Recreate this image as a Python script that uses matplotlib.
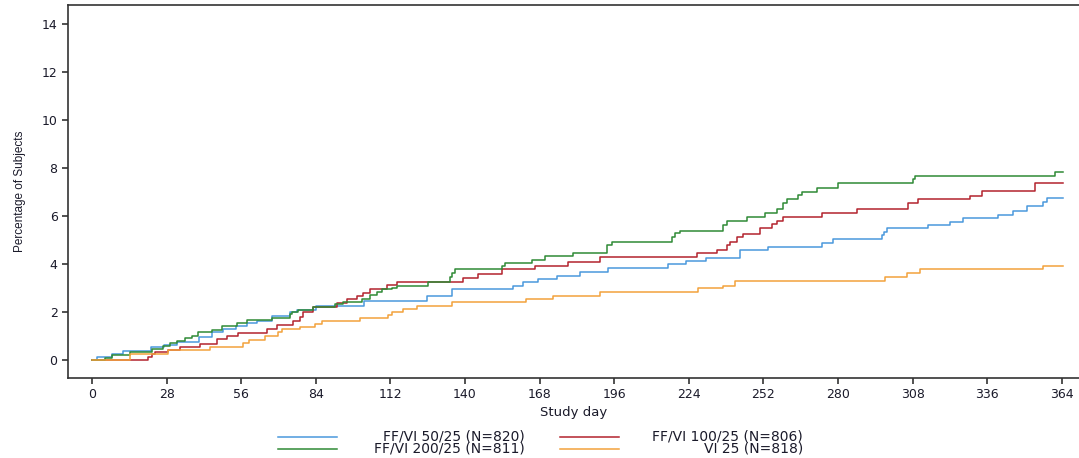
import matplotlib
matplotlib.use("Agg")
import matplotlib.pyplot as plt
from matplotlib.lines import Line2D

# cumulative percentage of subjects with an event, step points (day, %)
days_50 = [0, 2, 7.5, 11.6, 22, 27, 32, 40, 45, 49, 54, 58, 62, 67.5, 74.3, 77, 84,
           102, 125.7, 135, 158, 161.7, 167.4, 174.5, 183, 193.6, 216, 222.9, 230.4,
           243, 253.7, 273.9, 278, 296.4, 297.3, 298.3, 313.7, 322, 326.8, 340,
           345.6, 350.8, 356.8, 358.3, 364.5]
pct_50 = [0, 0.12, 0.24, 0.37, 0.53, 0.62, 0.76, 0.97, 1.15, 1.3, 1.42, 1.53, 1.64, 1.83,
          2.0, 2.1, 2.25, 2.45, 2.68, 2.95, 3.08, 3.26, 3.37, 3.51, 3.68, 3.84, 3.98,
          4.12, 4.27, 4.58, 4.72, 4.86, 5.03, 5.2, 5.35, 5.49, 5.63, 5.76, 5.9, 6.04,
          6.22, 6.42, 6.6, 6.74, 6.74]

days_100 = [0, 21, 22.5, 23.6, 28.5, 33, 40.5, 46.9, 50.7, 54.8, 65.7, 69.4, 75.4, 78,
            79.2, 83, 92, 95.7, 99.4, 101.7, 104.3, 110.7, 114.4, 139.2, 144.8, 153.8,
            166.2, 178.6, 190.6, 227, 234.5, 238.3, 239.4, 242, 244.3, 250.7, 255.2,
            257, 259.3, 274, 287, 306.2, 310, 329.5, 334, 353.8, 364.5]
pct_100 = [0, 0.12, 0.24, 0.35, 0.42, 0.55, 0.67, 0.86, 1.0, 1.14, 1.3, 1.46, 1.64, 1.8,
           2.0, 2.22, 2.38, 2.53, 2.67, 2.8, 2.95, 3.12, 3.27, 3.43, 3.58, 3.78, 3.92,
           4.1, 4.3, 4.44, 4.58, 4.8, 4.93, 5.11, 5.25, 5.49, 5.67, 5.8, 5.97, 6.11,
           6.28, 6.56, 6.7, 6.83, 7.05, 7.36, 7.36]

days_200 = [0, 4.9, 7.5, 14.3, 22.5, 26.6, 29.3, 31.9, 34.9, 37.5, 39.8, 45, 48.8, 54.4,
            58.2, 67.5, 74.3, 75, 77.3, 83, 91.2, 94.2, 101.3, 104.3, 107, 108.8, 112.6,
            114.4, 126, 134.3, 135, 136.2, 153.8, 155, 165, 170, 180.5, 193.2, 195,
            217.6, 218.8, 220.6, 236.8, 238.3, 245.8, 252.5, 257, 259.3, 260.8, 265,
            266.4, 272, 280, 308, 308.8, 361.4, 364.5]
pct_200 = [0, 0.1, 0.2, 0.35, 0.45, 0.58, 0.7, 0.8, 0.9, 1.0, 1.15, 1.26, 1.42, 1.53,
           1.67, 1.74, 1.9, 2.0, 2.1, 2.22, 2.35, 2.43, 2.53, 2.7, 2.85, 2.95, 2.98,
           3.08, 3.26, 3.45, 3.61, 3.78, 3.9, 4.05, 4.17, 4.33, 4.47, 4.79, 4.93, 5.11,
           5.28, 5.37, 5.63, 5.8, 5.97, 6.14, 6.28, 6.53, 6.7, 6.88, 7.01, 7.15, 7.39,
           7.53, 7.67, 7.85, 7.85]

days_vi = [0, 14.3, 28.5, 44.3, 56.7, 59, 64.9, 69.8, 71.3, 78, 83.7, 86.3, 100.6, 111,
           112.6, 116.7, 122, 135, 163, 173, 190.6, 227.4, 236.8, 241.3, 297.6, 305.8,
           310.7, 356.8, 364.5]
pct_vi = [0, 0.25, 0.42, 0.55, 0.72, 0.83, 1.0, 1.15, 1.28, 1.37, 1.5, 1.63, 1.75, 1.87,
          2.01, 2.11, 2.25, 2.4, 2.53, 2.67, 2.85, 2.99, 3.1, 3.28, 3.44, 3.64, 3.78,
          3.93, 3.93]

labels = ['FF/VI 50/25 (N=820)', 'FF/VI 100/25 (N=806)',
          'FF/VI 200/25 (N=811)', 'VI 25 (N=818)']
colors = ['#4a98dc', '#b3232e', '#2f8a36', '#f2a23c']

x_ticks = list(range(0, 365, 28))
y_ticks = list(range(0, 15, 2))

fig = plt.figure(figsize=(10.79, 4.58), dpi=100)
ax = fig.add_axes([0.063, 0.1747, 0.937, 0.8143])

series = [(days_50, pct_50), (days_100, pct_100), (days_200, pct_200), (days_vi, pct_vi)]
for (d, p), c in zip(series, colors):
    ax.step(d, p, where='post', color=c, lw=1.1)

ax.set_xlim(-9.0, 370.4)
ax.set_ylim(-0.75, 14.79)
ax.set_xticks(x_ticks)
ax.set_yticks(y_ticks)
ax.tick_params(direction='out', length=4, width=1.1, color='#222222',
               labelsize=9, labelcolor='#1a1a2a')
for s in ['left', 'top', 'bottom']:
    ax.spines[s].set_color('#333333')
    ax.spines[s].set_linewidth(1.2)
ax.spines['right'].set_visible(False)

ax.set_xlabel('Study day', fontsize=9.5, color='#1a1a2a', labelpad=3)
ax.set_ylabel('Percentage of Subjects', fontsize=8.5, color='#1a1a2a',
              family='Liberation Sans', labelpad=11)

# legend drawn below the axes, two columns with right-aligned text
W, H = 1079.0, 458.0
rows = [437, 449]
cols = [(278, 337, 525), (560, 619, 803)]
order = [(0, 0, 0), (1, 0, 1), (2, 1, 0), (3, 1, 1)]
for i, r, c in order:
    x0, x1, xt = cols[c]
    y = 1 - rows[r] / H
    fig.add_artist(Line2D([x0 / W, x1 / W], [y, y], color=colors[i], lw=1.1))
    fig.text(xt / W, y, labels[i], ha='right', va='center', fontsize=10,
             color='#1a1a2a')

fig.savefig('out.png', dpi=100)
